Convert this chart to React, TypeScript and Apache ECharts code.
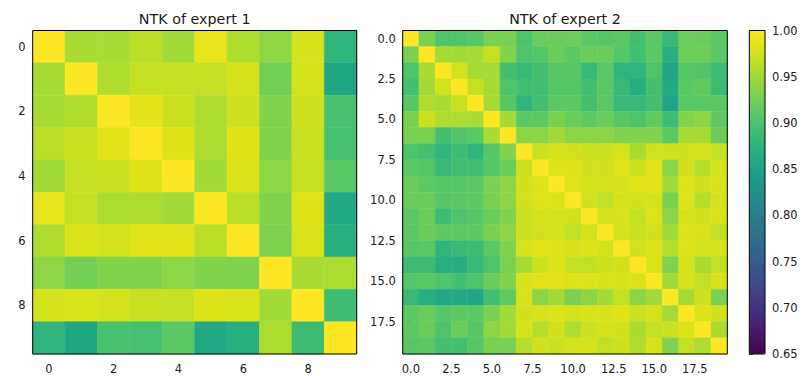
import { useEffect, useRef } from 'react';
import * as echarts from 'echarts';

// NTK matrix of expert 1 (rows top -> bottom, columns left -> right)
const expert1: number[][] = [
  [1, 0.954, 0.954, 0.964, 0.951, 0.987, 0.958, 0.941, 0.978, 0.878],
  [0.954, 1, 0.958, 0.969, 0.969, 0.969, 0.977, 0.925, 0.977, 0.857],
  [0.954, 0.958, 1, 0.986, 0.971, 0.957, 0.974, 0.934, 0.974, 0.898],
  [0.964, 0.971, 0.986, 1, 0.982, 0.957, 0.982, 0.934, 0.97, 0.896],
  [0.951, 0.969, 0.971, 0.982, 1, 0.951, 0.98, 0.94, 0.969, 0.91],
  [0.987, 0.969, 0.957, 0.957, 0.951, 1, 0.964, 0.934, 0.982, 0.86],
  [0.958, 0.98, 0.976, 0.985, 0.985, 0.964, 1, 0.932, 0.98, 0.87],
  [0.94, 0.925, 0.934, 0.934, 0.94, 0.934, 0.932, 1, 0.954, 0.957],
  [0.977, 0.98, 0.976, 0.97, 0.969, 0.982, 0.98, 0.951, 1, 0.891],
  [0.878, 0.857, 0.898, 0.896, 0.91, 0.86, 0.87, 0.957, 0.891, 1],
];

// NTK matrix of expert 2
const expert2: number[][] = [
  [1, 0.93, 0.902, 0.903, 0.907, 0.93, 0.93, 0.902, 0.92, 0.92, 0.921, 0.91, 0.907, 0.91, 0.895, 0.91, 0.885, 0.921, 0.92, 0.91],
  [0.93, 1, 0.953, 0.951, 0.954, 0.969, 0.934, 0.902, 0.907, 0.92, 0.9125, 0.92, 0.92, 0.907, 0.895, 0.91, 0.87, 0.921, 0.921, 0.91],
  [0.902, 0.954, 1, 0.976, 0.953, 0.954, 0.895, 0.885, 0.895, 0.907, 0.907, 0.885, 0.91, 0.878, 0.878, 0.902, 0.858, 0.907, 0.905, 0.891],
  [0.895, 0.951, 0.976, 1, 0.969, 0.953, 0.902, 0.893, 0.895, 0.907, 0.907, 0.895, 0.91, 0.885, 0.867, 0.895, 0.863, 0.91, 0.914, 0.888],
  [0.907, 0.958, 0.954, 0.972, 1, 0.953, 0.907, 0.878, 0.895, 0.91, 0.91, 0.895, 0.91, 0.885, 0.885, 0.895, 0.853, 0.91, 0.91, 0.91],
  [0.93, 0.972, 0.958, 0.956, 0.954, 1, 0.951, 0.91, 0.9125, 0.93, 0.92, 0.9125, 0.92, 0.907, 0.902, 0.914, 0.891, 0.9335, 0.939, 0.9125],
  [0.93, 0.93, 0.895, 0.905, 0.91, 0.954, 1, 0.939, 0.939, 0.951, 0.939, 0.939, 0.939, 0.9335, 0.9335, 0.9335, 0.91, 0.953, 0.953, 0.92],
  [0.902, 0.895, 0.878, 0.891, 0.878, 0.907, 0.9335, 1, 0.972, 0.977, 0.9755, 0.972, 0.972, 0.979, 0.954, 0.9755, 0.9755, 0.9755, 0.977, 0.9685],
  [0.91, 0.907, 0.885, 0.893, 0.893, 0.907, 0.92, 0.972, 1, 0.981, 0.981, 0.9755, 0.9755, 0.9825, 0.972, 0.9825, 0.939, 0.9755, 0.9615, 0.977],
  [0.92, 0.9125, 0.907, 0.907, 0.91, 0.93, 0.939, 0.9755, 0.981, 1, 0.981, 0.977, 0.977, 0.977, 0.983, 0.984, 0.951, 0.981, 0.9755, 0.979],
  [0.92, 0.92, 0.907, 0.91, 0.9125, 0.93, 0.939, 0.9755, 0.981, 0.981, 1, 0.9755, 0.967, 0.977, 0.9755, 0.977, 0.93, 0.981, 0.9615, 0.977],
  [0.91, 0.92, 0.891, 0.902, 0.907, 0.92, 0.9335, 0.972, 0.977, 0.977, 0.9755, 1, 0.977, 0.979, 0.9685, 0.981, 0.939, 0.977, 0.9755, 0.979],
  [0.91, 0.92, 0.9125, 0.9125, 0.9125, 0.93, 0.939, 0.972, 0.9755, 0.977, 0.967, 0.977, 1, 0.977, 0.972, 0.9755, 0.951, 0.981, 0.979, 0.967],
  [0.907, 0.91, 0.878, 0.885, 0.888, 0.91, 0.9335, 0.979, 0.9825, 0.981, 0.979, 0.981, 0.977, 1, 0.9755, 0.981, 0.9615, 0.981, 0.977, 0.977],
  [0.888, 0.891, 0.87, 0.867, 0.885, 0.902, 0.93, 0.953, 0.972, 0.981, 0.9685, 0.967, 0.972, 0.9755, 1, 0.981, 0.9335, 0.977, 0.9545, 0.967],
  [0.907, 0.91, 0.902, 0.895, 0.902, 0.92, 0.9335, 0.979, 0.9825, 0.984, 0.981, 0.981, 0.979, 0.979, 0.981, 1, 0.951, 0.977, 0.9685, 0.979],
  [0.885, 0.87, 0.86, 0.863, 0.857, 0.893, 0.914, 0.979, 0.939, 0.951, 0.93, 0.939, 0.951, 0.9685, 0.939, 0.951, 1, 0.953, 0.9755, 0.93],
  [0.9125, 0.92, 0.907, 0.9125, 0.91, 0.93, 0.951, 0.9755, 0.979, 0.981, 0.977, 0.979, 0.979, 0.981, 0.972, 0.977, 0.953, 1, 0.981, 0.9755],
  [0.91, 0.92, 0.902, 0.92, 0.907, 0.939, 0.951, 0.979, 0.9615, 0.9755, 0.958, 0.972, 0.977, 0.9755, 0.9545, 0.9685, 0.972, 0.981, 1, 0.9545],
  [0.907, 0.91, 0.895, 0.895, 0.907, 0.93, 0.93, 0.9615, 0.9755, 0.972, 0.977, 0.977, 0.967, 0.972, 0.958, 0.979, 0.9335, 0.9685, 0.958, 1],
];

const expert1Ticks = [0, 2, 4, 6, 8];
const expert2Ticks = [0, 2.5, 5, 7.5, 10, 12.5, 15, 17.5];
const titles = ['NTK of expert 1', 'NTK of expert 2'];
const colorMin = 0.65;
const colorMax = 1.0;
const colorStep = 0.05;

const viridis = [
  '#440154', '#471365', '#482475', '#463480', '#414487', '#3b528b', '#355f8d',
  '#2f6c8e', '#2a788e', '#25848e', '#21918c', '#1e9c89', '#22a884', '#2fb47c',
  '#44bf70', '#5ec962', '#7ad151', '#9bd93c', '#bddf26', '#dfe318', '#fde725',
];

const FONT = 'DejaVu Sans';
const TEXT = '#1a1a1a';
const TICK_FS = 11.5;
const G1 = { left: 32.7, top: 30.5, width: 324, height: 323.5 };
const G2 = { left: 402.7, top: 30.5, width: 324.6, height: 323.5 };
const GC = { left: 749.3, top: 30.5, width: 15.7, height: 323.5 };

function toCells(m: number[][]) {
  const out: number[][] = [];
  m.forEach((row, i) => row.forEach((v, j) => out.push([j, i, v])));
  return out;
}

const renderCell = (_params: any, api: any) => {
  const x = api.value(0);
  const y = api.value(1);
  const a = api.coord([x - 0.5, y - 0.5]);
  const b = api.coord([x + 0.5, y + 0.5]);
  const c = api.visual('color');
  return {
    type: 'rect',
    shape: {
      x: Math.min(a[0], b[0]),
      y: Math.min(a[1], b[1]),
      width: Math.abs(b[0] - a[0]),
      height: Math.abs(b[1] - a[1]),
    },
    style: { fill: c, stroke: c, lineWidth: 0.5 },
  };
};

function matAxis(gridIndex: number, n: number, ticks: number[], fmt: (v: number) => string, inverse: boolean, margin: number) {
  return {
    type: 'value',
    gridIndex,
    min: -0.5,
    max: n - 0.5,
    inverse,
    axisLine: { show: false },
    splitLine: { show: false },
    axisTick: { show: true, customValues: ticks, length: 3.5, lineStyle: { color: '#000', width: 0.8 } },
    axisLabel: {
      show: true,
      customValues: ticks,
      formatter: (v: number) => fmt(v),
      margin,
      fontSize: TICK_FS,
      fontFamily: FONT,
      color: TEXT,
    },
  };
}

export default function App() {
  const ref = useRef<HTMLDivElement>(null);
  useEffect(() => {
    if (!ref.current) return;
    const chart = echarts.init(ref.current, undefined, { renderer: 'svg' });
    const frame = (g: any) => ({
      type: 'rect',
      z: 100,
      shape: { x: g.left, y: g.top, width: g.width, height: g.height },
      style: { fill: 'none', stroke: '#000', lineWidth: 1 },
    });
    chart.setOption({
      animation: false,
      backgroundColor: '#fff',
      grid: [
        { ...G1, containLabel: false },
        { ...G2, containLabel: false },
        { ...GC, containLabel: false },
      ],
      xAxis: [
        matAxis(0, expert1.length, expert1Ticks, (v) => String(v), false, 8.5),
        matAxis(1, expert2.length, expert2Ticks, (v) => v.toFixed(1), false, 8.5),
        { type: 'value', gridIndex: 2, show: false, min: 0, max: 1 },
      ],
      yAxis: [
        matAxis(0, expert1.length, expert1Ticks, (v) => String(v), true, 7),
        matAxis(1, expert2.length, expert2Ticks, (v) => v.toFixed(1), true, 7),
        {
          type: 'value',
          gridIndex: 2,
          position: 'right',
          min: colorMin,
          max: colorMax,
          interval: colorStep,
          axisLine: { show: false },
          splitLine: { show: false },
          axisTick: { show: true, length: 3.5, lineStyle: { color: '#000', width: 0.8 } },
          axisLabel: {
            formatter: (v: number) => v.toFixed(2),
            margin: 7,
            fontSize: TICK_FS,
            fontFamily: FONT,
            color: TEXT,
          },
        },
      ],
      visualMap: {
        type: 'continuous',
        min: colorMin,
        max: colorMax,
        dimension: 2,
        seriesIndex: [0, 1],
        inRange: { color: viridis },
        calculable: false,
        hoverLink: false,
        orient: 'vertical',
        left: GC.left,
        top: GC.top,
        itemWidth: GC.width,
        itemHeight: GC.height,
        padding: 0,
      },
      series: [
        {
          type: 'custom',
          xAxisIndex: 0,
          yAxisIndex: 0,
          renderItem: renderCell,
          encode: { x: 0, y: 1 },
          data: toCells(expert1),
        },
        {
          type: 'custom',
          xAxisIndex: 1,
          yAxisIndex: 1,
          renderItem: renderCell,
          encode: { x: 0, y: 1 },
          data: toCells(expert2),
        },
      ],
      graphic: [
        frame(G1),
        frame(G2),
        frame(GC),
        {
          type: 'text',
          z: 100,
          x: G1.left + G1.width / 2,
          y: 18.5,
          style: { text: titles[0], fontSize: 14.3, fontFamily: FONT, fill: TEXT, textAlign: 'center', textVerticalAlign: 'middle' },
        },
        {
          type: 'text',
          z: 100,
          x: G2.left + G2.width / 2,
          y: 18.5,
          style: { text: titles[1], fontSize: 14.3, fontFamily: FONT, fill: TEXT, textAlign: 'center', textVerticalAlign: 'middle' },
        },
      ],
    });
    return () => chart.dispose();
  }, []);
  return <div ref={ref} style={{ position: 'fixed', left: 0, top: 0, width: 803, height: 376 }} />;
}
